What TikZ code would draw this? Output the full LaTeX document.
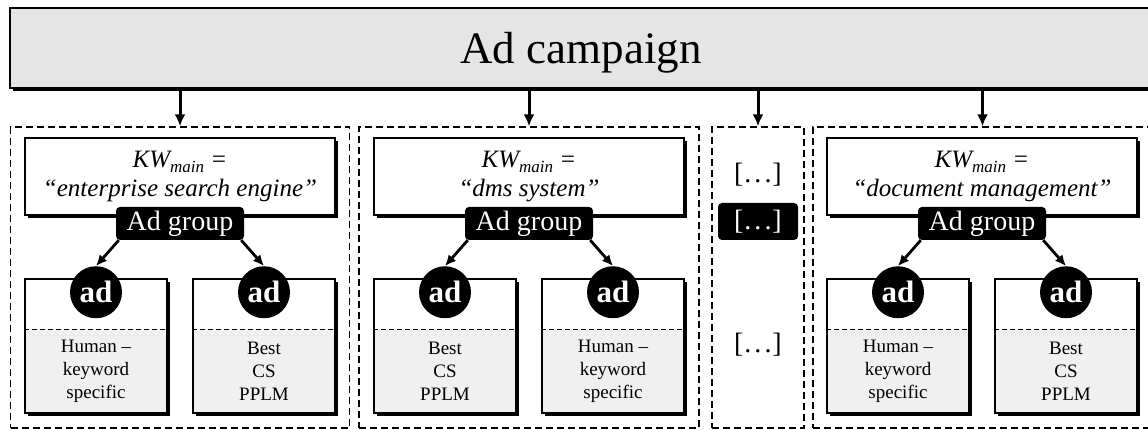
\documentclass[tikz,border=0pt]{standalone}
\usepackage{fontspec}
\setmainfont{Liberation Serif}
\usetikzlibrary{arrows.meta,positioning,shadows}

\newcommand{\etc}{[\kern1pt.\kern3pt.\kern3pt.\kern1pt]}

\tikzset{
  shdw/.style={drop shadow={shadow xshift=3pt, shadow yshift=-3pt, fill=black, opacity=1}},
  campaign/.style={draw, line width=1.5pt, fill=gray!20, shdw, minimum width=1142pt,
    minimum height=80pt, text depth=0pt, font=\fontsize{45}{45}\selectfont},
  panel/.style={draw, line width=1.4pt, dash pattern=on 7pt off 4pt, minimum height=301pt},
  kwbox/.style={draw, line width=1.5pt, fill=white, shdw, minimum width=310pt,
    minimum height=77pt, align=center, font=\fontsize{25}{29}\selectfont\itshape},
  adgroup/.style={fill=black, rounded corners=4pt, text=white, minimum width=128pt,
    minimum height=33pt, inner sep=0pt, font=\fontsize{28}{28}\selectfont},
  adbox/.style={draw, line width=1.5pt, fill=white, shdw, minimum width=142pt, minimum height=134pt},
  adcirc/.style={circle, fill=black, text=white, minimum size=52pt, inner sep=0pt,
    font=\fontsize{31}{31}\selectfont\bfseries},
  adtxt/.style={align=center, font=\fontsize{19}{23}\selectfont},
  dots/.style={font=\fontsize{28}{28}\selectfont},
  arr/.style={-{Latex[length=12pt,width=11pt]}, line width=3pt},
  sarr/.style={-{Latex[length=11pt,width=10pt]}, line width=2.8pt}
}

\begin{document}
\begin{tikzpicture}[x=1pt,y=-1pt]
\path[use as bounding box, clip] (0,0) rectangle (1148,430);

% --- Campagna ---
\node[campaign] (campaign) at (581,48) {Ad campaign};

% --- Pannelli ---
\node[panel, minimum width=339pt] (p1) at (180,277.5) {};
\node[panel, minimum width=340pt] (p2) at (529,277.5) {};
\node[panel, minimum width=92pt] (p3) at (758,277.5) {};
\node[panel, minimum width=339pt] (p4) at (982.5,277.5) {};

\foreach \i in {1,2,3,4}
  \draw[arr] (campaign.south -| p\i.north) -- (p\i.north);

% --- Gruppi ---
\foreach \i/\x/\kw/\la/\lb in {
  1/180/enterprise search engine/{Human --\\keyword\\specific}/{Best\\CS\\PPLM},
  2/529/dms system/{Best\\CS\\PPLM}/{Human --\\keyword\\specific},
  4/982/document management/{Human --\\keyword\\specific}/{Best\\CS\\PPLM}}{
  \node[kwbox] (kw\i) at (\x,176.5) {KW\raisebox{-0.45ex}{\fontsize{17}{17}\selectfont main} =\\``\kw''};
  \node[adgroup, below=-9pt of kw\i] (ag\i) {Ad group};

  \node[adbox] (boxL\i) at (\x-84,346) {};
  \node[adbox] (boxR\i) at (\x+84,346) {};
  \foreach \s in {L,R}{
    \fill[gray!12] ([shift={(1.5pt,-51pt)}]box\s\i.north west) rectangle ([shift={(-1.5pt,1.5pt)}]box\s\i.south east);
    \draw[line width=1.4pt, dash pattern=on 5pt off 3pt] ([yshift=-51pt]box\s\i.north west) -- ([yshift=-51pt]box\s\i.north east);
    \node[adcirc] (ad\s\i) at ([yshift=-14pt]box\s\i.north) {ad};
  }
  \node[adtxt] (txL\i) at ([yshift=-25.5pt]boxL\i.center) {\la};
  \node[adtxt] (txR\i) at ([yshift=-25.5pt]boxR\i.center) {\lb};

  \draw[sarr] ([xshift=3pt]ag\i.south west) -- (adL\i.north);
  \draw[sarr] ([xshift=-3pt]ag\i.south east) -- (adR\i.north);
}

% --- Altri gruppi ---
\node[dots] (d1) at (758,175) {\etc};
\node[adgroup, minimum width=80pt, minimum height=37pt, font=\fontsize{28}{28}\selectfont] (d2) at (758,221.5) {\etc};
\node[dots] (d3) at (758,345) {\etc};

\end{tikzpicture}
\end{document}
